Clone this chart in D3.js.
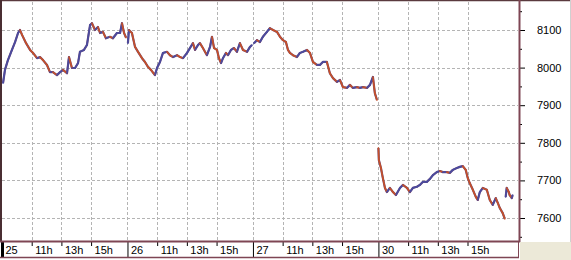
<!DOCTYPE html>
<html><head><meta charset="utf-8">
<script src="https://cdn.jsdelivr.net/npm/d3@7"></script>
<style>body{margin:0;background:#fff}svg{display:block;font-family:"Liberation Sans",Arial,sans-serif}</style>
</head><body><svg id="c" width="571" height="260"></svg>
<script>
const days = ["25", "26", "27", "30"];
const hourTicks = [11, 13, 15];
const hourLabels = ["11h", "13h", "15h"];
const priceTicks = [7600, 7700, 7800, 7900, 8000, 8100];
const minorTicks = [7550, 7650, 7750, 7850, 7950, 8050, 8150];
const sessionOpen = 9;
const sessionLength = 8.45;

// [clock hour, price]
const day25 = [[9.07,7959],[9.20,7994],[9.40,8020],[9.67,8047],[9.88,8068],[10.08,8092],[10.21,8100],[10.35,8087],[10.62,8065],[10.89,8047],[11.09,8039],[11.36,8025],[11.56,8028],[11.76,8020],[12.03,8007],[12.23,7988],[12.43,7988],[12.70,7980],[12.91,7988],[13.11,7994],[13.38,7985],[13.51,8028],[13.71,7999],[13.92,7999],[14.12,8012],[14.25,8042],[14.52,8047],[14.72,8060],[14.93,8113],[15.06,8118],[15.26,8100],[15.46,8108],[15.60,8092],[15.80,8095],[16.00,8078],[16.27,8082],[16.47,8078],[16.74,8092],[16.95,8092],[17.08,8118],[17.22,8092],[17.35,8080]];
const day26 = [[9.03,8065],[9.10,8100],[9.30,8092],[9.51,8055],[9.71,8042],[9.98,8025],[10.18,8015],[10.38,8002],[10.58,7994],[10.85,7980],[10.99,7999],[11.19,8015],[11.39,8039],[11.66,8042],[11.86,8033],[12.07,8028],[12.34,8033],[12.54,8028],[12.74,8025],[13.01,8039],[13.21,8052],[13.41,8065],[13.55,8047],[13.75,8060],[13.88,8065],[14.08,8052],[14.35,8033],[14.56,8055],[14.69,8082],[14.83,8052],[15.03,8047],[15.16,8025],[15.30,8012],[15.43,8025],[15.63,8039],[15.77,8033],[15.97,8047],[16.17,8052],[16.37,8042],[16.57,8065],[16.78,8047],[17.05,8042],[17.25,8055],[17.38,8060]];
const day27 = [[9.07,8065],[9.27,8073],[9.47,8068],[9.67,8082],[9.94,8095],[10.14,8105],[10.35,8100],[10.62,8095],[10.82,8082],[11.02,8073],[11.22,8068],[11.36,8047],[11.49,8039],[11.69,8033],[11.96,8028],[12.16,8039],[12.37,8042],[12.64,8047],[12.84,8039],[13.04,8015],[13.31,8007],[13.51,8007],[13.71,8015],[13.98,8015],[14.18,7985],[14.39,7972],[14.66,7962],[14.86,7967],[15.06,7948],[15.33,7946],[15.53,7954],[15.73,7946],[16.00,7948],[16.20,7946],[16.41,7948],[16.68,7946],[16.88,7954],[17.08,7975],[17.21,7932],[17.35,7914]];
const day30 = [[9.00,7786],[9.03,7754],[9.17,7733],[9.30,7706],[9.44,7680],[9.57,7669],[9.77,7680],[9.98,7669],[10.18,7661],[10.45,7680],[10.65,7688],[10.92,7680],[11.12,7669],[11.32,7680],[11.59,7683],[11.79,7688],[11.99,7696],[12.26,7696],[12.47,7704],[12.67,7714],[12.93,7722],[13.14,7725],[13.34,7722],[13.61,7722],[13.81,7720],[14.01,7728],[14.28,7733],[14.48,7736],[14.68,7738],[14.88,7728],[15.02,7706],[15.15,7693],[15.36,7675],[15.56,7656],[15.69,7648],[15.83,7669],[16.03,7680],[16.30,7675],[16.50,7648],[16.70,7635],[16.90,7653],[17.04,7640],[17.17,7627],[17.37,7613],[17.51,7598]];
const day30late = [[17.57,7656],[17.64,7680],[17.77,7670],[17.84,7661],[17.98,7653],[18.04,7661]];

const segments = [
  {day: 0, pts: day25}, {day: 1, pts: day26}, {day: 2, pts: day27},
  {day: 3, pts: day30}, {day: 3, pts: day30late}
];

const svg = d3.select("#c");
const x = d3.scaleLinear().domain([0, 34.75]).range([2, 518]);
const y = d3.scaleLinear().domain([7600, 8100]).range([218, 30]);
const tOf = (d, h) => d * sessionLength + (h - sessionOpen);

svg.append("rect").attr("width", 571).attr("height", 260).attr("fill", "#fff");
svg.append("rect").attr("x", 520).attr("y", 242).attr("width", 51).attr("height", 18).attr("fill", "#ece9d8");

const xTicks = [];
days.forEach((d, i) => {
  xTicks.push({t: tOf(i, sessionOpen), label: d, day: true, i});
  hourTicks.forEach((h, j) => xTicks.push({t: tOf(i, h), label: hourLabels[j], day: false, i}));
});

// grid
const grid = svg.append("g").attr("stroke", "#b4b4b4").attr("stroke-dasharray", "3,2").attr("stroke-width", 1);
xTicks.filter(d => d.t > 0).forEach(d => {
  const px = Math.round(x(d.t)) + 0.5;
  grid.append("line").attr("x1", px).attr("x2", px).attr("y1", 2).attr("y2", 241);
});
priceTicks.forEach(p => {
  const py = Math.round(y(p)) + 0.5;
  grid.append("line").attr("x1", 2).attr("x2", 518).attr("y1", py).attr("y2", py);
});

// price series
const plot = svg.append("g");
segments.forEach(s => {
  const pts = s.pts.map(p => [x(tOf(s.day, p[0])), y(p[1]), p[1]]);
  plot.append("path")
    .attr("d", d3.line()(pts.map(p => [p[0], p[1]])))
    .attr("fill", "none").attr("stroke", "#6b4a7e").attr("stroke-width", 2.2)
    .attr("stroke-linejoin", "round");
  for (let i = 1; i < pts.length; i++) {
    const a = pts[i - 1], b = pts[i];
    plot.append("line")
      .attr("x1", a[0]).attr("y1", a[1]).attr("x2", b[0]).attr("y2", b[1])
      .attr("stroke", b[2] >= a[2] ? "#4b4b9e" : "#c4502a")
      .attr("stroke-width", 1.7).attr("stroke-linecap", "round");
  }
});

// right axis
const yAxisG = svg.append("g").attr("transform", "translate(519,0)")
  .call(d3.axisRight(y).tickValues(priceTicks.concat(minorTicks)).tickSize(6)
    .tickFormat(v => priceTicks.includes(v) ? String(v) : ""));
yAxisG.select(".domain").remove();
yAxisG.selectAll(".tick line").attr("stroke", "#000")
  .attr("x2", v => priceTicks.includes(v) ? 6 : 3);
yAxisG.selectAll(".tick text").attr("x", 18).attr("font-size", 11).attr("fill", "#000")
  .attr("font-family", "'Liberation Sans', Arial, sans-serif");

// bottom axis
const xAxisG = svg.append("g").attr("transform", "translate(0,242)")
  .call(d3.axisBottom(x).tickValues(xTicks.map(d => d.t)).tickSize(4)
    .tickFormat((v, i) => xTicks[i].label));
xAxisG.select(".domain").remove();
xAxisG.selectAll(".tick line").attr("stroke", "#000")
  .attr("y2", (v, i) => xTicks[i].day ? 15 : 4)
  .attr("stroke-width", (v, i) => xTicks[i].i === 0 && xTicks[i].day ? 3 : 1);
xAxisG.selectAll(".tick text").attr("text-anchor", "start").attr("x", 3)
  .attr("y", 12).attr("dy", 0).attr("font-size", 11).attr("fill", "#000")
  .attr("font-family", "'Liberation Sans', Arial, sans-serif");

// frame
const frame = "#7e4654";
svg.append("line").attr("x1", 0).attr("x2", 571).attr("y1", 0.5).attr("y2", 0.5).attr("stroke", "#5a3a3e").attr("stroke-width", 1.5);
svg.append("line").attr("x1", 1).attr("x2", 1).attr("y1", 0).attr("y2", 242).attr("stroke", "#4a2e32").attr("stroke-width", 2);
svg.append("line").attr("x1", 519.5).attr("x2", 519.5).attr("y1", 0).attr("y2", 242).attr("stroke", frame).attr("stroke-width", 2);
svg.append("line").attr("x1", 0).attr("x2", 520).attr("y1", 241.5).attr("y2", 241.5).attr("stroke", frame).attr("stroke-width", 2);
svg.append("line").attr("x1", 0).attr("x2", 519).attr("y1", 257.5).attr("y2", 257.5).attr("stroke", frame).attr("stroke-width", 1.5);
svg.append("line").attr("x1", 518.5).attr("x2", 518.5).attr("y1", 242).attr("y2", 258).attr("stroke", frame).attr("stroke-width", 1);
svg.append("line").attr("x1", 570.5).attr("x2", 570.5).attr("y1", 0).attr("y2", 242).attr("stroke", "#d0d0d0").attr("stroke-width", 1);
</script></body></html>
